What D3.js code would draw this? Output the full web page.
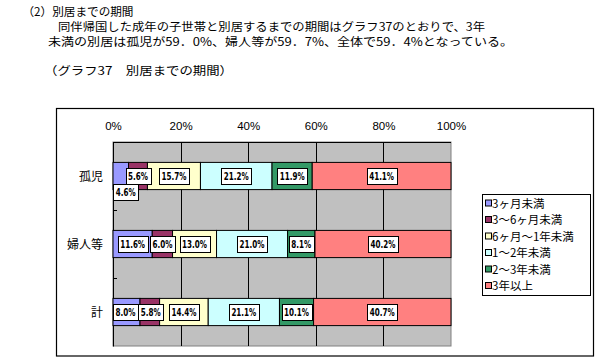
<!DOCTYPE html>
<html><head><meta charset="utf-8">
<script src="https://cdn.jsdelivr.net/npm/d3@7"></script>
<style>
html,body{margin:0;padding:0;background:#fff;}
svg{display:block;}
text{font-family:"Noto Sans CJK JP","Noto Sans",sans-serif;fill:#000;}
</style></head>
<body><svg id="c" width="598" height="360"></svg>
<script>
const categories = ["孤児", "婦人等", "計"];
const seriesNames = ["3ヶ月未満", "3～6ヶ月未満", "6ヶ月～1年未満", "1～2年未満", "2～3年未満", "3年以上"];
const values孤児 = [4.6, 5.6, 15.7, 21.2, 11.9, 41.1];
const values婦人等 = [11.6, 6.0, 13.0, 21.0, 8.1, 40.2];
const values計 = [8.0, 5.8, 14.4, 21.1, 10.1, 40.7];
const colors = ["#9999FF", "#993366", "#FFFFCC", "#CCFFFF", "#339966", "#FF8080"];
const tickValues = [0, 20, 40, 60, 80, 100];
const titleLines = [
  "（2）別居までの期間",
  "同伴帰国した成年の子世帯と別居するまでの期間はグラフ37のとおりで、3年",
  "未満の別居は孤児が59．0%、婦人等が59．7%、全体で59．4%となっている。",
  "（グラフ37　別居までの期間）"
];

const rows = [values孤児, values婦人等, values計];
const svg = d3.select("#c");

// header text
const titleLayout = [
  {x: 22.5, y: 16, w: 111},
  {x: 58, y: 31, w: 427},
  {x: 48, y: 46, w: 465},
  {x: 44, y: 75, w: 189}
];
titleLines.forEach((t, i) => {
  const L = titleLayout[i];
  svg.append("text").attr("x", L.x).attr("y", L.y)
    .attr("font-size", 11.5).attr("textLength", L.w).attr("lengthAdjust", "spacingAndGlyphs")
    .text(t);
});

// outer frame
svg.append("rect").attr("x", 56.5).attr("y", 108.5).attr("width", 537).attr("height", 247.5)
  .attr("fill", "#fff").attr("stroke", "#000").attr("stroke-width", 1.2);

const x = d3.scaleLinear().domain([0, 100]).range([113, 451]);
const y = d3.scaleBand().domain(categories).range([142, 346]).paddingInner(0.6).paddingOuter(0.3);

// plot area
svg.append("rect").attr("x", x(0)).attr("y", 142).attr("width", x(100) - x(0)).attr("height", 204)
  .attr("fill", "#C0C0C0").attr("stroke", "#808080").attr("stroke-width", 1);

// gridlines
svg.append("g").selectAll("line").data(tickValues.slice(1, 5)).join("line")
  .attr("x1", d => Math.round(x(d)) + 0.5).attr("x2", d => Math.round(x(d)) + 0.5)
  .attr("y1", 142).attr("y2", 346).attr("stroke", "#000").attr("stroke-width", 1);

// top axis
const ax = svg.append("g").attr("transform", "translate(0,142)")
  .call(d3.axisTop(x).tickValues(tickValues).tickFormat(d => d + "%").tickSize(0).tickPadding(12));
ax.select(".domain").remove();
ax.selectAll("text").attr("font-size", 11.5).style("font-family", "'Liberation Sans',Arial,sans-serif");
svg.append("line").attr("x1", x(0)).attr("x2", x(100)).attr("y1", 142.5).attr("y2", 142.5).attr("stroke", "#000");

// left axis
svg.append("line").attr("x1", x(0) + 0.5).attr("x2", x(0) + 0.5).attr("y1", 142).attr("y2", 346.5).attr("stroke", "#000");
const step = y.step();
[1, 2].forEach(i => {
  const yy = Math.round(142 + i * step) + 0.5;
  svg.append("line").attr("x1", x(0)).attr("x2", x(0) + 4).attr("y1", yy).attr("y2", yy).attr("stroke", "#000");
});

// category labels
svg.append("g").selectAll("text").data(categories).join("text")
  .attr("x", 103).attr("y", d => y(d) + y.bandwidth() / 2 + 4.5)
  .attr("text-anchor", "end").attr("font-size", 12).text(d => d);

// bars
const stackedRows = rows.map((vals, ri) => {
  const tot = d3.sum(vals);
  let acc = 0;
  return vals.map((v, si) => {
    const s = acc / tot * 100; acc += v;
    return {cat: categories[ri], si, v, x0: s, x1: acc / tot * 100};
  });
});
const segs = stackedRows.flat();
svg.append("g").selectAll("rect").data(segs).join("rect")
  .attr("x", d => x(d.x0)).attr("width", d => x(d.x1) - x(d.x0))
  .attr("y", d => y(d.cat)).attr("height", y.bandwidth())
  .attr("fill", d => colors[d.si]).attr("stroke", "#000").attr("stroke-width", 1);

// data labels
const labelShift = {"孤児-0": [5, 16], "計-0": [-1, 0], "計-1": [1, 0]};
const lg = svg.append("g");
segs.forEach(d => {
  const sh = labelShift[d.cat + "-" + d.si] || [0, 0];
  const cx = x((d.x0 + d.x1) / 2) + sh[0];
  const cy = y(d.cat) + y.bandwidth() / 2 + sh[1];
  const g = lg.append("g");
  const t = g.append("text").attr("x", cx).attr("y", cy + 3.8).attr("text-anchor", "middle")
    .attr("font-size", 10.5).attr("font-weight", "bold")
    .style("font-family", "'DejaVu Sans Condensed','Liberation Sans',sans-serif")
    .text(d.v.toFixed(1) + "%");
  const w0 = t.node().getComputedTextLength();
  const w = w0 * 0.76;
  t.attr("textLength", w).attr("lengthAdjust", "spacingAndGlyphs");
  g.insert("rect", "text").attr("x", Math.round(cx - w / 2 - 2.5) + 0.5).attr("y", Math.round(cy - 8) + 0.5)
    .attr("width", Math.round(w + 5)).attr("height", 16)
    .attr("fill", "#fff").attr("stroke", "#000").attr("stroke-width", 1);
});

// legend
svg.append("rect").attr("x", 482.5).attr("y", 194.5).attr("width", 108).attr("height", 101)
  .attr("fill", "#fff").attr("stroke", "#000").attr("stroke-width", 1);
const leg = svg.append("g").selectAll("g").data(seriesNames).join("g")
  .attr("transform", (d, i) => `translate(0,${203.5 + i * 16.5})`);
leg.append("rect").attr("x", 485.5).attr("y", -3.5).attr("width", 6).attr("height", 6)
  .attr("fill", (d, i) => colors[i]).attr("stroke", "#000").attr("stroke-width", 1);
leg.append("text").attr("x", 492).attr("y", 4.2).attr("font-size", 11.5).text(d => d);
</script></body></html>
